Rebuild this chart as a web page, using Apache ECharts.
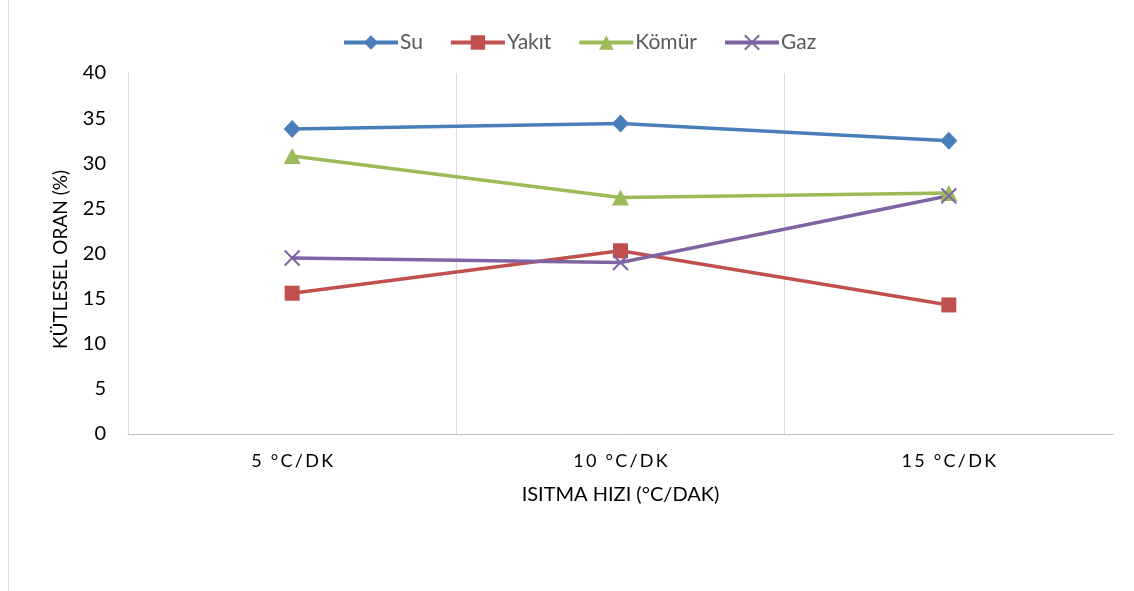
<!DOCTYPE html>
<html>
<head>
<meta charset="utf-8">
<script src="https://cdn.jsdelivr.net/npm/echarts@6/dist/echarts.min.js"></script>
<style>
  html, body { margin: 0; padding: 0; background: #fff; }
  #chart { width: 1134px; height: 591px; }
</style>
</head>
<body>
<div id="chart"></div>
<script>
// Heating rates on the x axis
const categories = ['5 °C/DK', '10 °C/DK', '15 °C/DK'];

// Mass fractions (%) of the pyrolysis products
const su = [33.8, 34.4, 32.5];
const yakit = [15.6, 20.3, 14.3];
const komur = [30.8, 26.2, 26.7];
const gaz = [19.5, 19.0, 26.4];

const yTicks = { min: 0, max: 40, interval: 5 };

const FONT = 'Lato, "Open Sans", sans-serif';

// Spread out the characters of the category labels
function spaced(s) {
  return s.split('').join('\u2009');
}

const crossPath = 'path://M0,0L10,10M10,0L0,10';

function lineSeries(name, data, color, symbol, size, extra) {
  return Object.assign({
    name: name,
    type: 'line',
    data: data,
    symbol: symbol,
    symbolSize: size,
    lineStyle: { color: color, width: 3.5 },
    itemStyle: { color: color },
    emphasis: { disabled: true },
    z: 3
  }, extra || {});
}

const chart = echarts.init(document.getElementById('chart'), null, { renderer: 'canvas' });

chart.setOption({
  animation: false,
  backgroundColor: '#ffffff',
  textStyle: { fontFamily: FONT },
  legend: {
    top: 27,
    left: 337,
    itemWidth: 54,
    itemHeight: 18,
    itemGap: 26,
    lineStyle: { width: 4 },
    textStyle: { fontFamily: FONT, fontSize: 21, color: '#595959', padding: [0, 0, 0, -3] },
    data: ['Su', 'Yakıt', 'Kömür', 'Gaz']
  },
  grid: { left: 128, right: 21, top: 73, bottom: 157 },
  xAxis: {
    type: 'category',
    data: categories,
    boundaryGap: true,
    name: 'ISITMA HIZI (°C/DAK)',
    nameLocation: 'middle',
    nameGap: 51,
    nameTextStyle: { fontFamily: FONT, fontSize: 20, color: '#000' },
    axisLine: { show: true, lineStyle: { color: '#bfbfbf', width: 1 } },
    axisTick: { show: false },
    axisLabel: {
      fontFamily: FONT, fontSize: 18, color: '#000', margin: 18,
      formatter: spaced
    },
    splitLine: { show: true, showMinLine: false, showMaxLine: false, lineStyle: { color: '#d9d9d9', width: 1 } }
  },
  yAxis: {
    type: 'value',
    min: yTicks.min,
    max: yTicks.max,
    interval: yTicks.interval,
    name: 'KÜTLESEL ORAN (%)',
    nameLocation: 'middle',
    nameGap: 58,
    nameRotate: 90,
    nameTextStyle: { fontFamily: FONT, fontSize: 19, color: '#000', padding: [0, 12, 0, 0] },
    axisLine: { show: true, lineStyle: { color: '#d9d9d9', width: 1 } },
    axisTick: { show: false },
    axisLabel: { fontFamily: FONT, fontSize: 20, color: '#000', margin: 22 },
    splitLine: { show: false }
  },
  graphic: [{
    type: 'line',
    shape: { x1: 8.5, y1: 0, x2: 8.5, y2: 591 },
    style: { stroke: '#d9d9d9', lineWidth: 1 },
    silent: true
  }],
  series: [
    lineSeries('Su', su, '#4a7ebb', 'diamond', [17, 18]),
    lineSeries('Yakıt', yakit, '#c0504d', 'rect', [15, 15]),
    lineSeries('Kömür', komur, '#9bbb59', 'triangle', [17, 16]),
    lineSeries('Gaz', gaz, '#8064a2', crossPath, [15, 15], {
      itemStyle: { color: 'none', borderColor: '#8064a2', borderWidth: 2 }
    })
  ]
});
</script>
</body>
</html>
